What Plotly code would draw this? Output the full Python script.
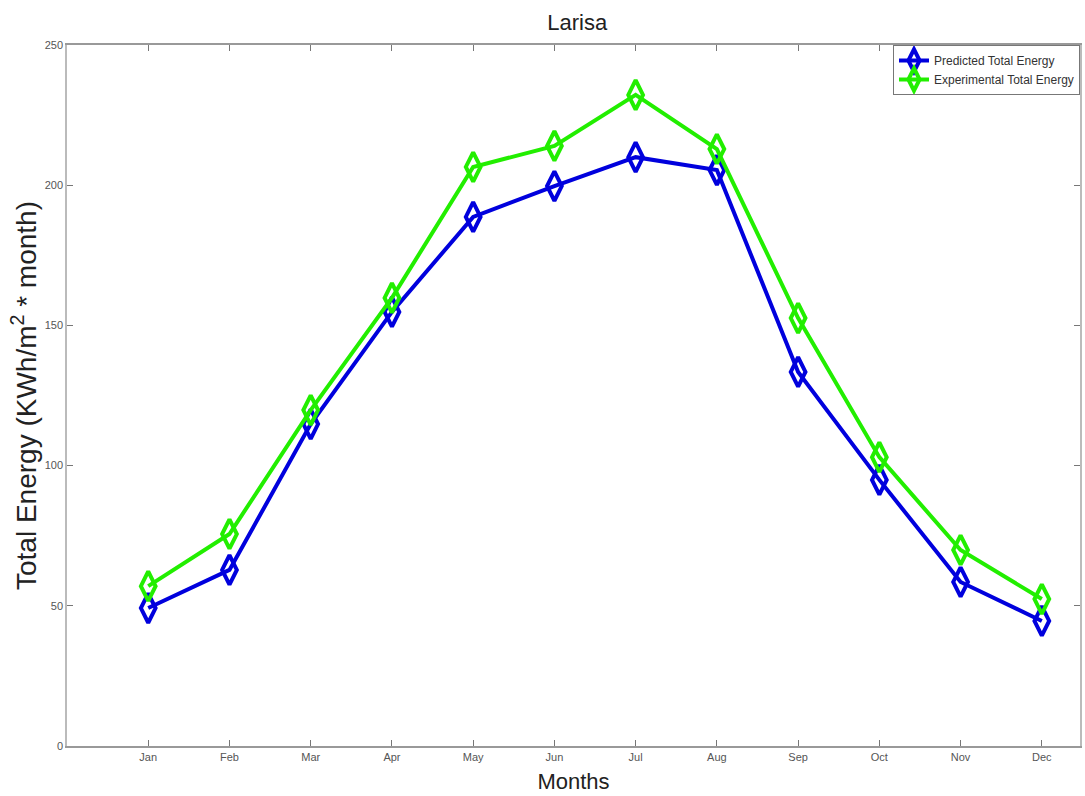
import plotly.graph_objects as go

months = ["Jan", "Feb", "Mar", "Apr", "May", "Jun", "Jul", "Aug", "Sep", "Oct", "Nov", "Dec"]
month_idx = list(range(1, 13))
predicted = [49.2, 62.8, 114.8, 154.8, 188.7, 199.7, 210.0, 205.4, 133.4, 94.9, 58.5, 44.6]
experimental = [57.0, 75.6, 119.8, 159.8, 206.5, 214.0, 232.2, 212.9, 152.6, 103.0, 69.9, 52.4]
y_ticks = [0, 50, 100, 150, 200, 250]

fig = go.Figure()
fig.add_trace(go.Scatter(
    x=month_idx, y=predicted, mode="lines+markers", name="Predicted Total Energy",
    line=dict(color="#0000dd", width=4),
    marker=dict(symbol="diamond-tall-open", size=21, color="#0000dd", line=dict(width=4, color="#0000dd")),
))
fig.add_trace(go.Scatter(
    x=month_idx, y=experimental, mode="lines+markers", name="Experimental Total Energy",
    line=dict(color="#22ee00", width=4),
    marker=dict(symbol="diamond-tall-open", size=21, color="#22ee00", line=dict(width=4, color="#22ee00")),
))

fig.update_layout(
    width=1085, height=796,
    margin=dict(l=67, r=3, t=45, b=50),
    paper_bgcolor="white", plot_bgcolor="white",
    title=dict(text="Larisa", x=0.532, xanchor="center", y=0.972, yanchor="middle",
               font=dict(family="Liberation Sans, Arial", size=22, color="#222")),
    font=dict(family="Liberation Sans, Arial", color="#333"),
    xaxis=dict(
        range=[0, 12.47], tickmode="array", tickvals=month_idx, ticktext=months,
        ticks="inside", ticklen=6, tickcolor="#777", showline=True, linecolor="#999",
        linewidth=1.5, mirror="ticks", showgrid=False, zeroline=False,
        tickfont=dict(size=11, color="#555"),
        title=dict(text="Months", font=dict(size=22, color="#222"), standoff=12),
    ),
    yaxis=dict(
        range=[0, 250], tickvals=y_ticks,
        ticks="inside", ticklen=6, tickcolor="#777", showline=True, linecolor="#bbb",
        linewidth=1.5, mirror="ticks", showgrid=False, zeroline=False,
        tickfont=dict(size=11, color="#555"),
        title=dict(text="Total Energy (KWh/m<sup>2</sup> * month)", font=dict(size=28, color="#222"), standoff=0),
    ),
    legend=dict(
        x=1, y=1, xanchor="right", yanchor="top",
        bgcolor="white", bordercolor="#777", borderwidth=1,
        font=dict(size=12, color="#333"), itemwidth=30, tracegroupgap=0,
    ),
)

fig.write_html("out.html")
